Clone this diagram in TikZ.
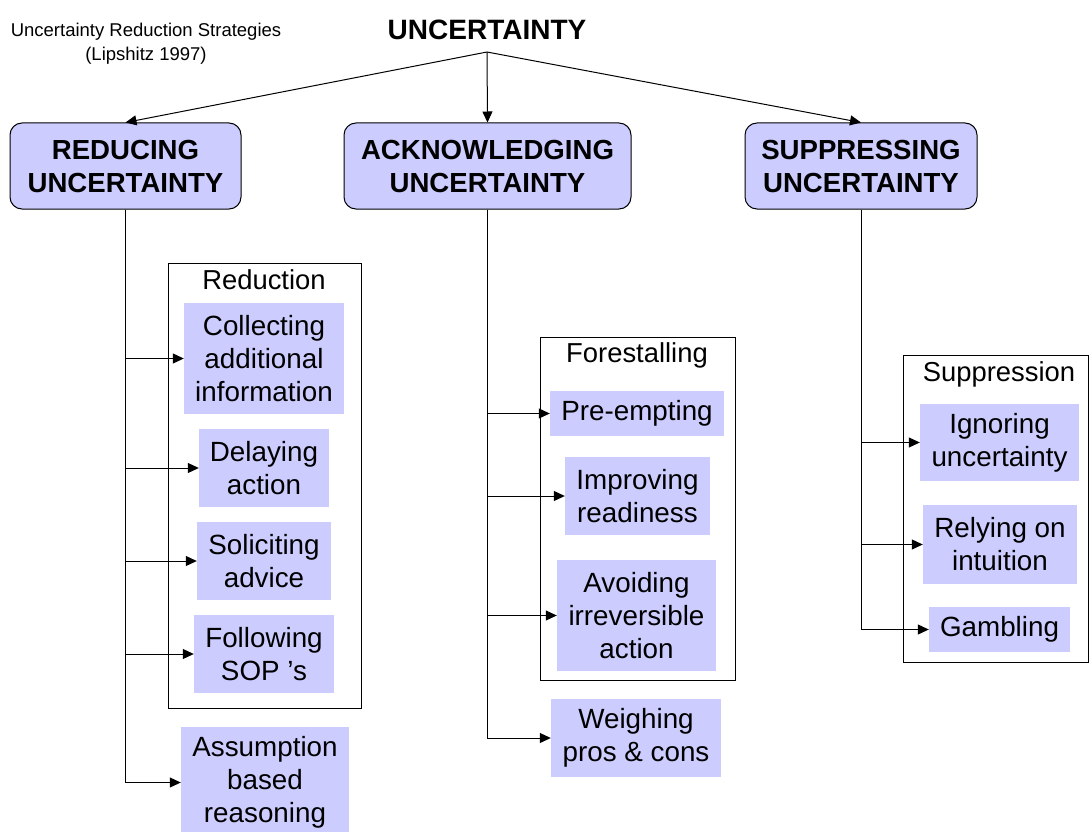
\documentclass[tikz,border=0pt]{standalone}
\usepackage{fontspec}
\setmainfont{Liberation Sans}
\usetikzlibrary{arrows.meta}
\definecolor{lav}{RGB}{204,204,255}
\begin{document}
\begin{tikzpicture}[x=1pt,y=-1pt,
 item/.style={fill=lav, inner sep=0pt, align=center, font=\fontsize{27.8}{33}\selectfont},
 head/.style={fill=lav, draw=black, line width=1pt, rounded corners=12pt, inner sep=0pt, align=center, font=\fontsize{27.6}{33}\selectfont\bfseries},
 grp/.style={draw=black, line width=1pt, inner sep=0pt},
 lab/.style={inner sep=0pt, font=\fontsize{27.4}{30}\selectfont},
 arr/.style={line width=1pt, -{Triangle[length=11pt,width=10pt]}}]
\useasboundingbox (0,0) rectangle (1089,832);
% titles
\node[inner sep=0pt, font=\fontsize{28}{30}\selectfont\bfseries] (title) at (487,30) {UNCERTAINTY};
\node[inner sep=0pt, align=center, font=\fontsize{18.5}{24}\selectfont] (sub) at (146,44) {Uncertainty Reduction Strategies\\(Lipshitz 1997)};
\coordinate (split) at (487,52);
% head boxes
\node[head, minimum width=231pt, minimum height=86pt] (red) at (125.5,166) {REDUCING\\UNCERTAINTY};
\node[head, minimum width=287pt, minimum height=86pt] (ack) at (487.5,166) {ACKNOWLEDGING\\UNCERTAINTY};
\node[head, minimum width=232pt, minimum height=86pt] (sup) at (861,166) {SUPPRESSING\\UNCERTAINTY};
% group boxes
\node[grp, minimum width=193pt, minimum height=445pt] (gred) at (264.5,485.5) {};
\node[lab] (lred) at (264,280) {Reduction};
\node[grp, minimum width=195pt, minimum height=343pt] (gfor) at (637.5,508.5) {};
\node[lab] (lfor) at (637,355) {Forestalling};
\node[grp, minimum width=185pt, minimum height=307pt] (gsup) at (995.5,508.5) {};
\node[lab] (lsup) at (999,374) {Suppression};
% reducing items
\node[item, minimum width=160pt, minimum height=111pt] (collect) at (264,358.5) {Collecting\\additional\\information};
\node[item, minimum width=130pt, minimum height=78pt] (delay) at (264,468) {Delaying\\action};
\node[item, minimum width=134pt, minimum height=78pt] (solicit) at (264,561) {Soliciting\\advice};
\node[item, minimum width=140pt, minimum height=78pt] (follow) at (264,654) {Following\\SOP 's};
\node[item, minimum width=168pt, minimum height=111pt] (assume) at (265,782.5) {Assumption\\based\\reasoning};
% acknowledging items
\node[item, minimum width=174pt, minimum height=45pt] (preempt) at (637,413.5) {Pre-empting};
\node[item, minimum width=145pt, minimum height=78pt] (improve) at (637.5,496) {Improving\\readiness};
\node[item, minimum width=159pt, minimum height=111pt] (avoid) at (636.5,615.5) {Avoiding\\irreversible\\action};
\node[item, minimum width=170pt, minimum height=78pt] (weigh) at (636,738) {Weighing\\pros \& cons};
% suppressing items
\node[item, minimum width=159pt, minimum height=77pt] (ignore) at (999.5,442.5) {Ignoring\\uncertainty};
\node[item, minimum width=154pt, minimum height=79pt] (rely) at (1000,544.5) {Relying on\\intuition};
\node[item, minimum width=141pt, minimum height=45pt] (gamble) at (999.5,629.5) {Gambling};
% connectors
\draw[arr] (split) -- (red.north);
\draw[arr] (split) -- (ack.north);
\draw[arr] (split) -- (sup.north);
\foreach \t in {collect,delay,solicit,follow,assume}
  \draw[arr] (red.south) |- (\t.west);
\foreach \t in {preempt,improve,avoid,weigh}
  \draw[arr] (ack.south) |- (\t.west);
\foreach \t in {ignore,rely,gamble}
  \draw[arr] (sup.south) |- (\t.west);
\end{tikzpicture}
\end{document}
